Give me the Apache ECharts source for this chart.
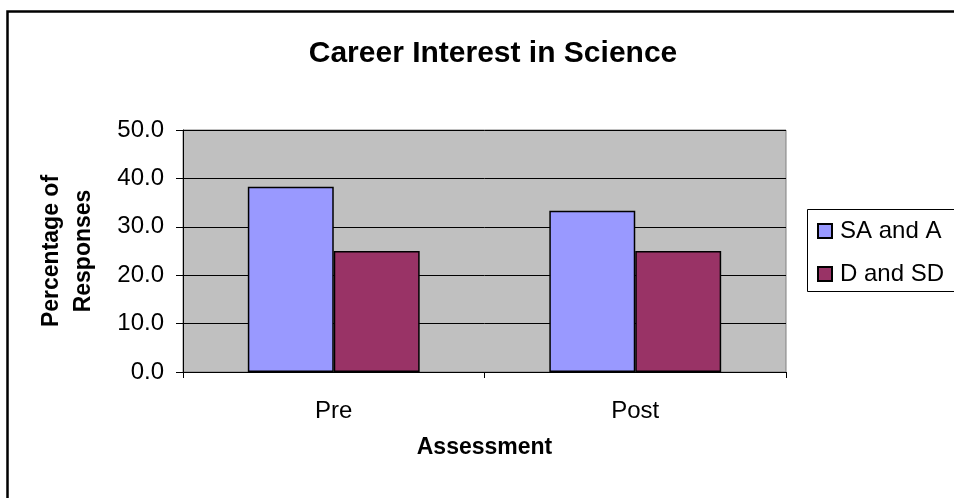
<!DOCTYPE html>
<html>
<head>
<meta charset="utf-8">
<script src="https://cdn.jsdelivr.net/npm/echarts@6/dist/echarts.min.js"></script>
<style>
html,body{margin:0;padding:0;background:#fff;}
#chart{width:954px;height:498px;}
</style>
</head>
<body>
<div id="chart"></div>
<script>
const categories = ["Pre", "Post"];
const seriesNames = ["SA and A", "D and SD"];
const saAndA = [38.3, 33.3];
const dAndSD = [25.0, 25.0];
const yTicks = [0, 10, 20, 30, 40, 50];

const FONT = "'Liberation Sans', Arial, sans-serif";
const chart = echarts.init(document.getElementById('chart'), null, {renderer: 'canvas'});
chart.setOption({
  animation: false,
  backgroundColor: '#ffffff',
  title: {
    text: 'Career Interest in Science',
    left: 488, top: 34, textAlign: 'center',
    textStyle: {fontFamily: FONT, fontSize: 30, fontWeight: 'bold', color: '#000'}
  },
  graphic: [
    {type: 'rect', left: 5, top: 9, shape: {width: 1000, height: 600},
     style: {fill: 'none', stroke: '#000', lineWidth: 2.5}, z: 100},
    {type: 'rect', left: 807, top: 209, shape: {width: 200, height: 82},
     style: {fill: '#fff', stroke: '#000', lineWidth: 1}, z: -1}
  ],
  legend: {
    orient: 'vertical', left: 817, top: 219, padding: 0,
    itemWidth: 14, itemHeight: 14, itemGap: 19,
    icon: 'rect',
    data: seriesNames,
    textStyle: {fontFamily: FONT, fontSize: 24, color: '#000', padding: [0, 0, 0, 3]}
  },
  grid: {
    left: 183, right: 168, top: 130, bottom: 126,
    show: true, backgroundColor: '#C0C0C0', borderColor: '#808080', borderWidth: 1
  },
  xAxis: {
    type: 'category', data: categories,
    name: 'Assessment', nameLocation: 'middle', nameGap: 64,
    nameTextStyle: {fontFamily: FONT, fontSize: 23, fontWeight: 'bold', color: '#000'},
    axisLine: {lineStyle: {color: '#000', width: 1}},
    axisTick: {show: true, length: 6, lineStyle: {color: '#000'}},
    axisLabel: {fontFamily: FONT, fontSize: 24, color: '#000', margin: 27},
    splitLine: {show: false}
  },
  yAxis: {
    type: 'value', min: yTicks[0], max: yTicks[yTicks.length - 1], interval: 10,
    name: 'Percentage of\nResponses', nameLocation: 'middle', nameGap: 83, nameRotate: 90,
    nameTextStyle: {fontFamily: FONT, fontSize: 23, fontWeight: 'bold', color: '#000', lineHeight: 32},
    axisLine: {show: true, lineStyle: {color: '#000', width: 1}},
    axisTick: {show: true, length: 7, lineStyle: {color: '#000'}},
    axisLabel: {fontFamily: FONT, fontSize: 24, color: '#000', margin: 19,
      formatter: v => v.toFixed(1)},
    splitLine: {show: true, lineStyle: {color: '#000', width: 1}}
  },
  series: [
    {name: seriesNames[0], type: 'bar', data: saAndA, barGap: '0%', barCategoryGap: '43%',
     itemStyle: {color: '#9999FF', borderColor: '#000', borderWidth: 1.5}},
    {name: seriesNames[1], type: 'bar', data: dAndSD, barGap: '0%', barCategoryGap: '43%',
     itemStyle: {color: '#993366', borderColor: '#000', borderWidth: 1.5}}
  ]
});
</script>
</body>
</html>
